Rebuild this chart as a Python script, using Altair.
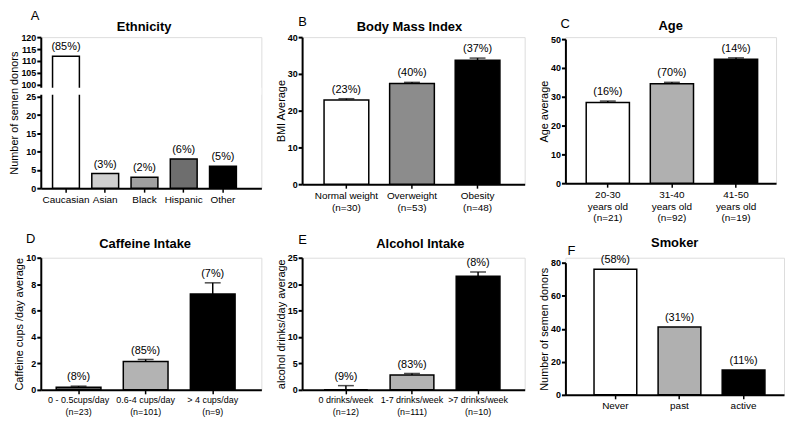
import altair as alt
import pandas as pd

FONT = "Liberation Sans, Arial, sans-serif"

# ---- data ----
eth_cats = ["Caucasian", "Asian", "Black", "Hispanic", "Other"]
eth_vals = [112, 4, 3, 8, 6]
eth_pct = ["(85%)", "(3%)", "(2%)", "(6%)", "(5%)"]
eth_cols = ["#ffffff", "#d0d0d0", "#a0a0a0", "#6e6e6e", "#000000"]

bmi_cats = ["Normal weight\n(n=30)", "Overweight\n(n=53)", "Obesity\n(n=48)"]
bmi_vals = [22.9, 27.4, 33.7]
bmi_errs = [0.35, 0.3, 0.6]
bmi_pct = ["(23%)", "(40%)", "(37%)"]
bmi_cols = ["#ffffff", "#8c8c8c", "#000000"]

age_cats = ["20-30\nyears old\n(n=21)", "31-40\nyears old\n(n=92)", "41-50\nyears old\n(n=19)"]
age_vals = [28.0, 34.5, 43.0]
age_errs = [0.5, 0.5, 0.5]
age_pct = ["(16%)", "(70%)", "(14%)"]
age_cols = ["#ffffff", "#b0b0b0", "#000000"]

caf_cats = ["0 - 0.5cups/day\n(n=23)", "0.6-4 cups/day\n(n=101)", "> 4 cups/day\n(n=9)"]
caf_vals = [0.2, 2.15, 7.25]
caf_errs = [0.08, 0.15, 0.85]
caf_pct = ["(8%)", "(85%)", "(7%)"]
caf_cols = ["#555555", "#b3b3b3", "#000000"]

alc_cats = ["0 drinks/week\n(n=12)", "1-7 drinks/week\n(n=111)", ">7 drinks/week\n(n=10)"]
alc_vals = [0.0, 2.8, 21.5]
alc_errs = [0.8, 0.3, 0.8]
alc_pct = ["(9%)", "(83%)", "(8%)"]
alc_cols = ["#ffffff", "#b3b3b3", "#000000"]

smk_cats = ["Never", "past", "active"]
smk_vals = [76, 41, 15]
smk_pct = ["(58%)", "(31%)", "(11%)"]
smk_cols = ["#ffffff", "#b0b0b0", "#000000"]


def panel(cats, vals, errs, pcts, cols, title, tx, ty, ytitle, ydomain, yrange,
          yvals, w, h, pi, po, al, letter, lx, ly, brk=None, xfs=10):
    if errs is None:
        hi = list(vals)
    else:
        hi = [v + e for v, e in zip(vals, errs)]
    df = pd.DataFrame({"cat": cats, "val": vals, "hi": hi, "pct": pcts, "fill": cols})
    xaxis = alt.Axis(title=None, labelAngle=0, labelExpr="split(datum.label, '\\n')",
                     labelFont=FONT, labelFontSize=xfs, labelColor="black",
                     labelLineHeight=12, labelPadding=2, domainColor="black",
                     domainWidth=2, tickColor="black", tickWidth=1.5, tickSize=4,
                     labelOverlap=False)
    x = alt.X("cat:N", sort=cats,
              scale=alt.Scale(domain=cats, paddingInner=pi, paddingOuter=po, align=al),
              axis=xaxis)
    ysc = alt.Scale(domain=ydomain, range=yrange, nice=False, zero=False)
    yaxis = alt.Axis(title=ytitle, values=yvals, grid=False, labelFont=FONT,
                     labelFontWeight="bold", labelFontSize=9, labelColor="black",
                     labelPadding=1, labelOverlap=False, domainColor="black",
                     domainWidth=2, tickColor="black", tickWidth=2, tickSize=4,
                     titleFont=FONT, titleFontSize=11, titleFontWeight="normal",
                     titleColor="black", titlePadding=1)

    def Y(f):
        return alt.Y(f + ":Q", scale=ysc, axis=yaxis)

    base = alt.Chart(df)
    layers = [base.mark_bar(stroke="black", strokeWidth=1.5).encode(
        x=x, y=Y("val"), color=alt.Color("fill:N", scale=None, legend=None))]
    if errs is not None:
        layers.append(base.mark_rule(color="black", strokeWidth=1.5).encode(
            x=x, y=Y("val"), y2="hi:Q"))
        layers.append(base.mark_tick(color="black", thickness=1.5, size=16).encode(
            x=x, y=Y("hi")))
    layers.append(base.mark_text(baseline="bottom", dy=-4, fontSize=11, font=FONT,
                                 color="black").encode(x=x, y=Y("hi"), text="pct:N"))
    if brk is not None:
        bdf = pd.DataFrame({"b0": [brk[0]], "b1": [brk[1]]})
        layers.append(alt.Chart(bdf).mark_rect(color="white").encode(
            y=Y("b0"), y2="b1:Q", x=alt.value(-6), x2=alt.value(w)))
    ldf = pd.DataFrame({"t": [letter], "title": [title]})
    layers.append(alt.Chart(ldf).mark_text(align="left", baseline="alphabetic",
                                           fontSize=13, font=FONT, color="black").encode(
        text="t:N", x=alt.value(lx), y=alt.value(ly)))
    layers.append(alt.Chart(ldf).mark_text(align="center", baseline="alphabetic",
                                           fontSize=13, fontWeight="bold", font=FONT,
                                           color="black").encode(
        text="title:N", x=alt.value(tx), y=alt.value(ty)))
    return alt.layer(*layers).properties(width=w, height=h)


A = panel(eth_cats, eth_vals, None, eth_pct, eth_cols, "Ethnicity", 104, -6,
          "Number of semen donors", [0, 25, 100, 120], [152, 60, 48, 0],
          [0, 5, 10, 15, 20, 25, 100, 105, 110, 115, 120],
          222, 152, 0.316, 0.468, 0.32, "A", -10, -17, brk=(37.5, 81))
B = panel(bmi_cats, bmi_vals, bmi_errs, bmi_pct, bmi_cols, "Body Mass Index", 108, -6,
          "BMI Average", [0, 40], [148, 0], [0, 10, 20, 30, 40],
          224, 148, 0.318, 0.356, 0.47, "B", -4, -11)
C = panel(age_cats, age_vals, age_errs, age_pct, age_cols, "Age", 106, -7,
          "Age average", [0, 50], [147, 2], [0, 10, 20, 30, 40, 50],
          212, 147, 0.326, 0.306, 0.53, "C", -5, -9)
D = panel(caf_cats, caf_vals, caf_errs, caf_pct, caf_cols, "Caffeine Intake", 105, -10,
          "Caffeine cups /day average", [0, 10], [133, 0], [0, 2, 4, 6, 8, 10],
          222, 133, 0.333, 0.311, 0.37, "D", -15, -15, xfs=9)
E = panel(alc_cats, alc_vals, alc_errs, alc_pct, alc_cols, "Alcohol Intake", 119, -10,
          "alcohol drinks/day average", [0, 25], [133, 0], [0, 5, 10, 15, 20, 25],
          224, 133, 0.338, 0.353, 0.47, "E", -4, -14, xfs=9)
F = panel(smk_cats, smk_vals, None, smk_pct, smk_cols, "Smoker", 110, -11,
          "Number of semen donors", [0, 80], [138, 5], [0, 20, 40, 60, 80],
          220, 138, 0.333, 0.372, 0.60, "F", 2, -3)

chart = alt.concat(A, B, C, D, E, F, columns=3,
                   spacing=alt.RowColnumber(row=70, column=41),
                   bounds="flush").properties(
    padding={"left": 0, "top": 0, "right": 0, "bottom": 0}
).configure_view(stroke=None).configure(background="white")

chart.save("out.html", embed_options={"renderer": "svg", "actions": False})
